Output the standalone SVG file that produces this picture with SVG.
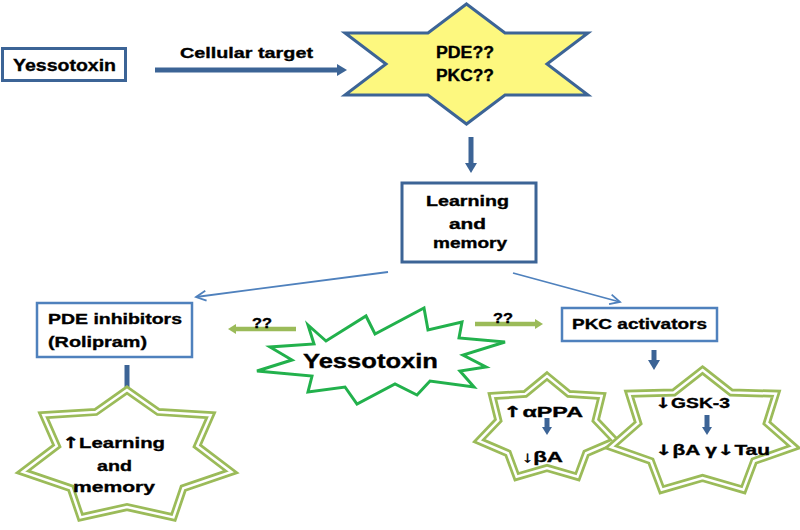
<svg xmlns="http://www.w3.org/2000/svg" width="800" height="530" viewBox="0 0 800 530">
<style>
  text{font-family:"Liberation Sans","DejaVu Sans",Arial,sans-serif;font-weight:bold;fill:#000;stroke:#000;stroke-width:0.35;}
  .ar{font-family:"DejaVu Sans",sans-serif;font-weight:bold;}
  .box{fill:#fff;stroke:#3c6496;stroke-width:3;}
  .box2{fill:#fff;stroke:#4f81bd;stroke-width:2.5;}
  .thick{stroke:#3c6496;stroke-width:5;fill:none;}
  .thin{stroke:#4f81bd;stroke-width:1.8;fill:none;}
  .garrow{stroke:#9bbb59;stroke-width:4.5;fill:none;}
  .starOut{fill:#fff;stroke:#9bbb59;stroke-width:8;stroke-linejoin:miter;}
  .starIn{fill:none;stroke:#fff;stroke-width:2.5;stroke-linejoin:miter;}
</style>
<defs>
  <marker id="ahBlue" markerUnits="userSpaceOnUse" markerWidth="14" markerHeight="14" refX="0" refY="7" orient="auto">
    <path d="M0,1 L10,7 L0,13 Z" fill="#3c6496"/>
  </marker>
  <marker id="ahSmall" markerUnits="userSpaceOnUse" markerWidth="12" markerHeight="12" refX="0" refY="6" orient="auto">
    <path d="M0,1 L8,6 L0,11 Z" fill="#3c6496"/>
  </marker>
  <marker id="ahThin" markerUnits="userSpaceOnUse" markerWidth="14" markerHeight="14" refX="11" refY="7" orient="auto">
    <path d="M1,2 L11,7 L1,12" fill="none" stroke="#4f81bd" stroke-width="1.8"/>
  </marker>
  <marker id="ahGreen" markerUnits="userSpaceOnUse" markerWidth="12" markerHeight="14" refX="0" refY="7" orient="auto">
    <path d="M0,2 L8,7 L0,12 Z" fill="#9bbb59"/>
  </marker>
</defs>

<g id="connectors">
  <line class="thick" x1="155" y1="70" x2="337" y2="70" marker-end="url(#ahBlue)"/>
  <line class="thick" x1="471" y1="137" x2="471" y2="163" marker-end="url(#ahBlue)"/>
  <line class="thin" x1="388" y1="272" x2="196" y2="297" marker-end="url(#ahThin)"/>
  <line class="thin" x1="513" y1="273" x2="620" y2="302" marker-end="url(#ahThin)"/>
  <line class="thick" x1="127" y1="365" x2="127" y2="388"/>
  <line class="thick" x1="654" y1="350" x2="654" y2="360" marker-end="url(#ahBlue)"/>
  <line class="garrow" x1="296" y1="329" x2="236" y2="329" marker-end="url(#ahGreen)"/>
  <line class="garrow" x1="475" y1="324" x2="535" y2="324" marker-end="url(#ahGreen)"/>
</g>

<g id="yessotoxin-box">
  <rect class="box" x="2.5" y="48.5" width="123" height="32"/>
  <text x="13" y="71" font-size="17" textLength="103" lengthAdjust="spacingAndGlyphs">Yessotoxin</text>
</g>

<g id="cellular-target-label">
  <text x="180" y="58" font-size="15" textLength="133" lengthAdjust="spacingAndGlyphs">Cellular target</text>
</g>

<g id="target-star">
  <path d="M466.5,4 L505,33 L588,33 L547,64 L588,95 L505,95 L466.5,124 L428,95 L345,95 L386,64 L345,33 L428,33 Z" fill="#fdf87f" stroke="#3c6496" stroke-width="3" stroke-linejoin="miter"/>
  <text x="436" y="58" font-size="16" textLength="58" lengthAdjust="spacingAndGlyphs">PDE??</text>
  <text x="436" y="81" font-size="16" textLength="58" lengthAdjust="spacingAndGlyphs">PKC??</text>
</g>

<g id="learning-box">
  <rect class="box" x="402" y="183" width="134" height="79"/>
  <text x="426" y="206" font-size="14.5" textLength="83" lengthAdjust="spacingAndGlyphs">Learning</text>
  <text x="449" y="229" font-size="14.5" textLength="37" lengthAdjust="spacingAndGlyphs">and</text>
  <text x="433" y="248" font-size="14.5" textLength="74" lengthAdjust="spacingAndGlyphs">memory</text>
</g>

<g id="pde-box">
  <rect class="box2" x="37" y="303" width="155" height="54"/>
  <text x="48" y="324" font-size="15" textLength="134" lengthAdjust="spacingAndGlyphs">PDE inhibitors</text>
  <text x="48" y="347" font-size="15" textLength="99" lengthAdjust="spacingAndGlyphs">(Rolipram)</text>
</g>

<g id="pkc-box">
  <rect class="box2" x="562" y="308" width="155" height="33"/>
  <text x="572" y="329" font-size="15" textLength="135" lengthAdjust="spacingAndGlyphs">PKC activators</text>
</g>

<g id="q-left">
  <text x="252" y="328" font-size="14" textLength="20" lengthAdjust="spacingAndGlyphs">??</text>
</g>
<g id="q-right">
  <text x="493" y="323" font-size="14" textLength="20" lengthAdjust="spacingAndGlyphs">??</text>
</g>

<g id="yessotoxin-burst">
  <path d="M308,325 L326,341 L366,316 L375,334 L424,308 L428,330 L462,322 L459,338 L505,342 L463,355 L486,367 L460,371 L474,387 L430,381 L417,395 L395,384 L357,404 L345,387 L308,392 L312,376 L257,371 L292,360 L270,347 L314,344 Z" fill="#fff" stroke="#22b14c" stroke-width="3" stroke-linejoin="miter"/>
  <text x="303" y="368" font-size="21" textLength="135" lengthAdjust="spacingAndGlyphs">Yessotoxin</text>
</g>

<g id="star-learning">
  <path class="starOut" d="M127,390 L158.2,411.9 L210.7,415.2 L197.2,445.9 L231.3,471.9 L183.3,488.2 L173.4,517.4 L127,507 L80.6,517.4 L70.7,488.2 L22.7,471.9 L56.8,445.9 L43.3,415.2 L95.8,411.9 Z"/>
  <path class="starIn" d="M127,390 L158.2,411.9 L210.7,415.2 L197.2,445.9 L231.3,471.9 L183.3,488.2 L173.4,517.4 L127,507 L80.6,517.4 L70.7,488.2 L22.7,471.9 L56.8,445.9 L43.3,415.2 L95.8,411.9 Z"/>
  <text x="62" y="448" font-size="15.5" textLength="103" lengthAdjust="spacingAndGlyphs"><tspan class="ar">↑</tspan>Learning</text>
  <text x="97" y="471" font-size="15.5" textLength="35" lengthAdjust="spacingAndGlyphs">and</text>
  <text x="73" y="492" font-size="15.5" textLength="82" lengthAdjust="spacingAndGlyphs">memory</text>
</g>

<g id="star-appa">
  <path class="starOut" d="M547,376 L568.7,393.9 L601.7,396 L595.7,420.3 L615.2,440.8 L586.1,453.3 L577.4,476.8 L547,468 L516.6,476.8 L507.9,453.3 L478.8,440.8 L498.3,420.3 L492.3,396 L525.3,393.9 Z"/>
  <path class="starIn" d="M547,376 L568.7,393.9 L601.7,396 L595.7,420.3 L615.2,440.8 L586.1,453.3 L577.4,476.8 L547,468 L516.6,476.8 L507.9,453.3 L478.8,440.8 L498.3,420.3 L492.3,396 L525.3,393.9 Z"/>
  <text x="503" y="417" font-size="15" textLength="80" lengthAdjust="spacingAndGlyphs"><tspan class="ar">↑</tspan>αPPA</text>
  <line class="thick" x1="547" y1="418" x2="547" y2="427" stroke-width="4" marker-end="url(#ahSmall)"/>
  <text x="522" y="462" font-size="15" textLength="41" lengthAdjust="spacingAndGlyphs">↓βA</text>
</g>

<g id="star-gsk">
  <path class="starOut" d="M702.5,370 L731.1,392.5 L776,393.7 L766.8,423 L794.1,447 L754.1,461.1 L743.3,489.8 L702.5,478 L661.7,489.8 L650.9,461.1 L610.9,447 L638.2,423 L629,393.7 L673.9,392.5 Z"/>
  <path class="starIn" d="M702.5,370 L731.1,392.5 L776,393.7 L766.8,423 L794.1,447 L754.1,461.1 L743.3,489.8 L702.5,478 L661.7,489.8 L650.9,461.1 L610.9,447 L638.2,423 L629,393.7 L673.9,392.5 Z"/>
  <text x="655" y="408" font-size="14" textLength="75" lengthAdjust="spacingAndGlyphs"><tspan class="ar">↓</tspan>GSK-3</text>
  <line class="thick" x1="707" y1="415" x2="707" y2="427" stroke-width="4" marker-end="url(#ahSmall)"/>
  <text x="655" y="455" font-size="14" textLength="115" lengthAdjust="spacingAndGlyphs"><tspan class="ar">↓</tspan>βA γ<tspan class="ar">↓</tspan>Tau</text>
</g>
</svg>
